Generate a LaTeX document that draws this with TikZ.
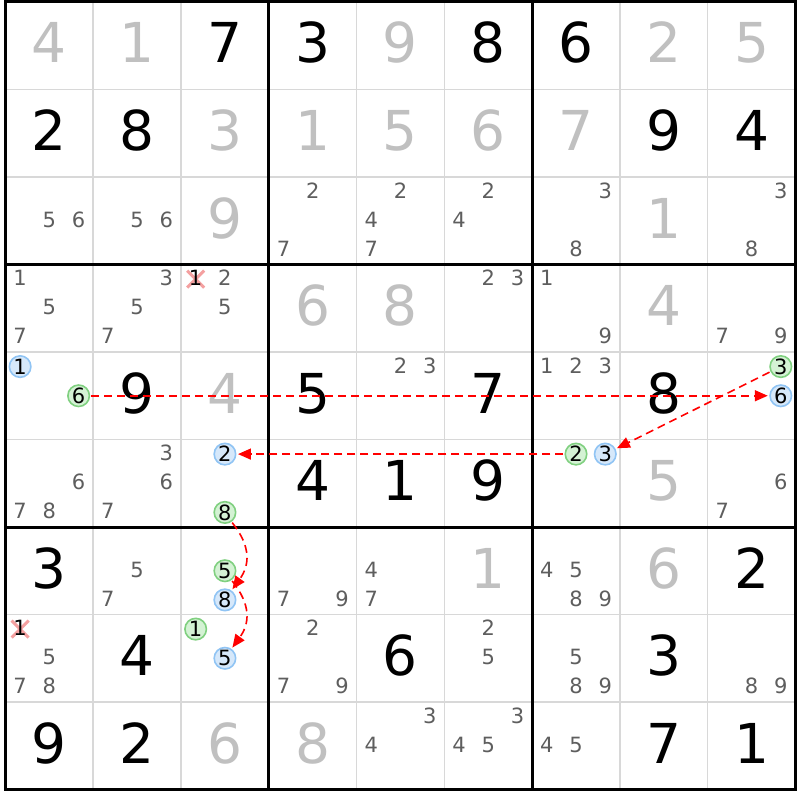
\documentclass[tikz,border=0pt]{standalone}
\usepackage{fontspec}
\setmainfont{DejaVu Sans}
\usetikzlibrary{arrows.meta,shapes.misc}
\definecolor{givgray}{HTML}{C0C0C0}
\definecolor{candgray}{HTML}{5E5E5E}
\definecolor{thingrid}{HTML}{D8D8D8}
\definecolor{grnfill}{HTML}{D4F2D4}
\definecolor{grnline}{HTML}{80D080}
\definecolor{blufill}{HTML}{D6E8FA}
\definecolor{bluline}{HTML}{90C4F4}
\definecolor{xpink}{HTML}{F4A0A0}
\definecolor{arrred}{HTML}{FF0000}
\newcommand\bigfnt{\fontsize{55}{60}\selectfont}
\newcommand\smlfnt{\fontsize{21}{24}\selectfont}
% given digit: row col digit colour
\newcommand\giv[4]{\node[bigd,text=#4] (g#1#2) at ({5.5+(#2-0.5)*87.77},{2+(#1-1)*87.5+61}) {#3};}
% plain candidate: row col digit
\newcommand\cnd[3]{\node[cand] (c#1#2#3) at ({5.5+(#2-1)*87.77+(2*mod(#3-1,3)+1)*14.628},{2+(#1-1)*87.5+(2*floor((#3-1)/3)+1)*14.583+6.5}) {#3};}
\newcommand\cnds[3]{\foreach \d in {#3}{\cnd{#1}{#2}{\d}}}
% circled candidate: row col digit style
\newcommand\ccnd[4]{\node[#4] (c#1#2#3) at ({5.5+(#2-1)*87.77+(2*mod(#3-1,3)+1)*14.628},{2+(#1-1)*87.5+(2*floor((#3-1)/3)+1)*14.583}) {#3};}
% crossed candidate: row col digit
\newcommand\xcnd[3]{\node[xmk] (x#1#2#3) at ({5.5+(#2-1)*87.77+(2*mod(#3-1,3)+1)*14.628},{2+(#1-1)*87.5+(2*floor((#3-1)/3)+1)*14.583}) {};
\node[cand,text=black] (c#1#2#3) at ({5.5+(#2-1)*87.77+(2*mod(#3-1,3)+1)*14.628},{2+(#1-1)*87.5+(2*floor((#3-1)/3)+1)*14.583+6.5}) {#3};}
\tikzset{
  bigd/.style={anchor=base,inner sep=0,font=\bigfnt},
  cand/.style={anchor=base,inner sep=0,font=\smlfnt,text=candgray},
  grn/.style={circle,draw=grnline,fill=grnfill,line width=1.6,minimum size=21.5,inner sep=0,font=\smlfnt,text=black},
  blu/.style={circle,draw=bluline,fill=blufill,line width=1.6,minimum size=21.5,inner sep=0,font=\smlfnt,text=black},
  xmk/.style={cross out,draw=xpink,line width=3,minimum size=14,inner sep=0},
  thinline/.style={draw=thingrid,line width=1.6},
  thickline/.style={draw=black,line width=3,line cap=rect},
  redarr/.style={draw=arrred,line width=1.6,dash pattern=on 8 off 5,-{Triangle[length=13,width=11]},shorten >=1.5,shorten <=1}
}
\begin{document}
\begin{tikzpicture}[x=1pt,y=-1pt]
\useasboundingbox (0,0) rectangle (800,800);
\fill[white] (0,0) rectangle (800,800);
% grid
\foreach \i in {1,2,4,5,7,8}{
  \draw[thinline] ({5.5+\i*87.77},2) -- ({5.5+\i*87.77},789.5);
  \draw[thinline] (5.5,{2+\i*87.5}) -- (795.3,{2+\i*87.5});
}
\foreach \i in {0,1,2,3}{
  \draw[thickline] ({5.5+\i*263.27},2) -- ({5.5+\i*263.27},789.5);
  \draw[thickline] (5.5,{2+\i*262.5}) -- (795.3,{2+\i*262.5});
}
% givens
\giv{1}{1}{4}{givgray}\giv{1}{2}{1}{givgray}\giv{1}{3}{7}{black}\giv{1}{4}{3}{black}\giv{1}{5}{9}{givgray}\giv{1}{6}{8}{black}\giv{1}{7}{6}{black}\giv{1}{8}{2}{givgray}\giv{1}{9}{5}{givgray}
\giv{2}{1}{2}{black}\giv{2}{2}{8}{black}\giv{2}{3}{3}{givgray}\giv{2}{4}{1}{givgray}\giv{2}{5}{5}{givgray}\giv{2}{6}{6}{givgray}\giv{2}{7}{7}{givgray}\giv{2}{8}{9}{black}\giv{2}{9}{4}{black}
\giv{3}{3}{9}{givgray}\giv{3}{8}{1}{givgray}
\giv{4}{4}{6}{givgray}\giv{4}{5}{8}{givgray}\giv{4}{8}{4}{givgray}
\giv{5}{2}{9}{black}\giv{5}{3}{4}{givgray}\giv{5}{4}{5}{black}\giv{5}{6}{7}{black}\giv{5}{8}{8}{black}
\giv{6}{4}{4}{black}\giv{6}{5}{1}{black}\giv{6}{6}{9}{black}\giv{6}{8}{5}{givgray}
\giv{7}{1}{3}{black}\giv{7}{6}{1}{givgray}\giv{7}{8}{6}{givgray}\giv{7}{9}{2}{black}
\giv{8}{2}{4}{black}\giv{8}{5}{6}{black}\giv{8}{8}{3}{black}
\giv{9}{1}{9}{black}\giv{9}{2}{2}{black}\giv{9}{3}{6}{givgray}\giv{9}{4}{8}{givgray}\giv{9}{8}{7}{black}\giv{9}{9}{1}{black}
% candidates
\cnds{3}{1}{5,6}\cnds{3}{2}{5,6}\cnds{3}{4}{2,7}\cnds{3}{5}{2,4,7}\cnds{3}{6}{2,4}\cnds{3}{7}{3,8}\cnds{3}{9}{3,8}
\cnds{4}{1}{1,5,7}\cnds{4}{2}{3,5,7}\xcnd{4}{3}{1}\cnds{4}{3}{2,5}\cnds{4}{6}{2,3}\cnds{4}{7}{1,9}\cnds{4}{9}{7,9}
\cnds{5}{5}{2,3}\cnds{5}{7}{1,2,3}
\cnds{6}{1}{6,7,8}\cnds{6}{2}{3,6,7}\cnds{6}{9}{6,7}
\cnds{7}{2}{5,7}\cnds{7}{4}{7,9}\cnds{7}{5}{4,7}\cnds{7}{7}{4,5,8,9}
\xcnd{8}{1}{1}\cnds{8}{1}{5,7,8}\cnds{8}{4}{2,7,9}\cnds{8}{6}{2,5}\cnds{8}{7}{5,8,9}\cnds{8}{9}{8,9}
\cnds{9}{5}{3,4}\cnds{9}{6}{3,4,5}\cnds{9}{7}{4,5}
% circled candidates
\ccnd{5}{1}{1}{blu}\ccnd{5}{1}{6}{grn}
\ccnd{5}{9}{3}{grn}\ccnd{5}{9}{6}{blu}
\ccnd{6}{3}{2}{blu}\ccnd{6}{3}{8}{grn}
\ccnd{6}{7}{2}{grn}\ccnd{6}{7}{3}{blu}
\ccnd{7}{3}{5}{grn}\ccnd{7}{3}{8}{blu}
\ccnd{8}{3}{1}{grn}\ccnd{8}{3}{5}{blu}
% links
\draw[redarr] (c516) -- (c596);
\draw[redarr] (c593) -- (c673);
\draw[redarr] (c672) -- (c632);
\draw[redarr] (c638.-55) .. controls +(20,25) and +(18,-25) .. (c738.55);
\draw[redarr] (c735.-55) .. controls +(20,25) and +(18,-25) .. (c835.55);
\end{tikzpicture}
\end{document}
